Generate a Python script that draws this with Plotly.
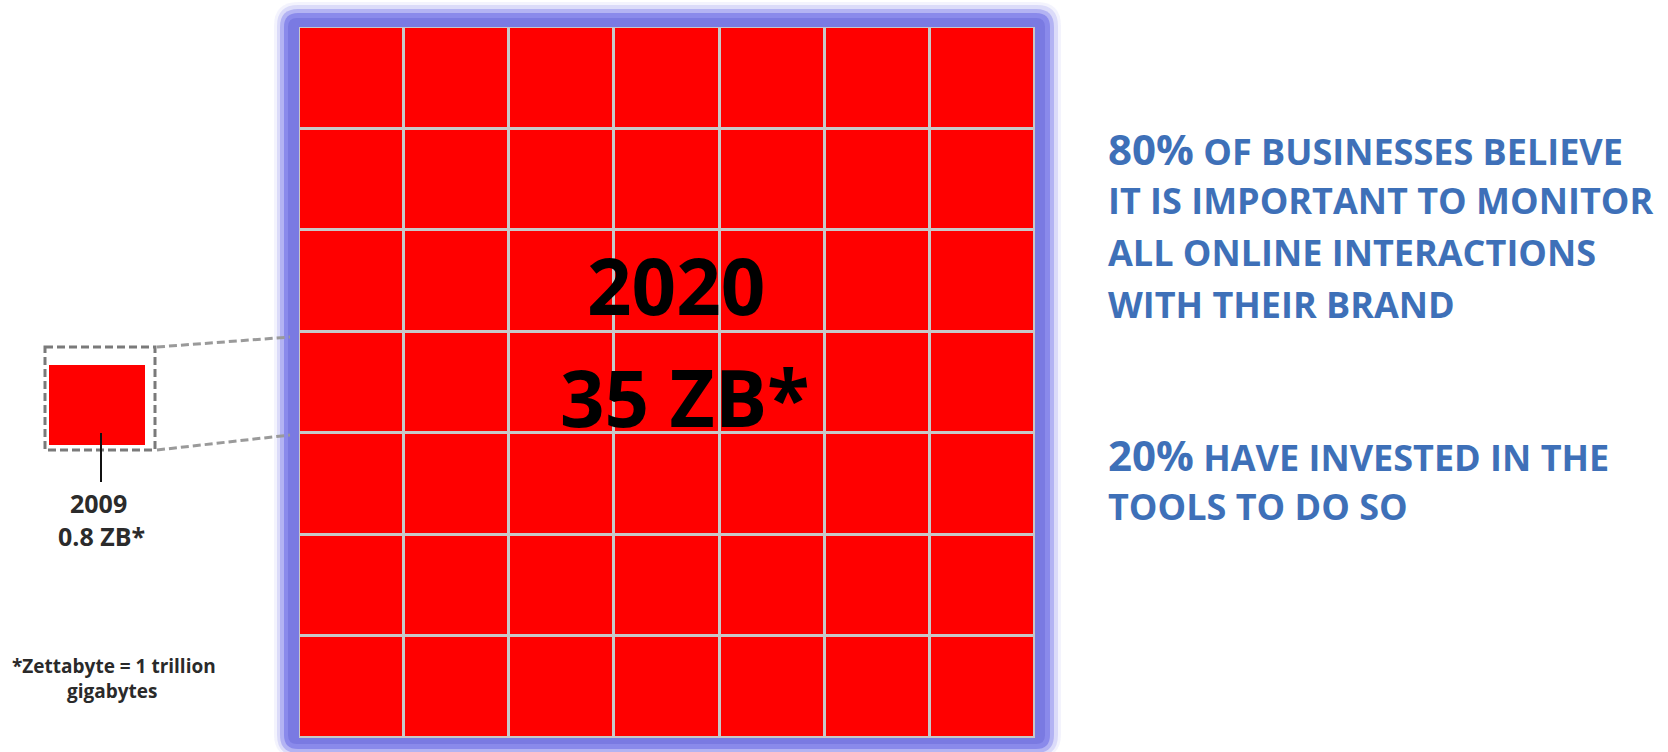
import numpy as np
import plotly.graph_objects as go

# ---------------- data ----------------
years = ["2009", "2020"]
volumes_zb = [0.8, 35]
volume_labels = ["0.8 ZB*", "35 ZB*"]
grid_cols = 7          # 2020 block drawn as 7 x 7 units
grid_rows = 7
stat_pcts = ["80%", "20%"]
stat_lines = [
    ["OF BUSINESSES BELIEVE", "IT IS IMPORTANT TO MONITOR",
     "ALL ONLINE INTERACTIONS", "WITH THEIR BRAND"],
    ["HAVE INVESTED IN THE", "TOOLS TO DO SO"],
]
footnote = ["*Zettabyte = 1 trillion", "gigabytes"]

# ---------------- layout constants ----------------
W, H = 1668, 752
RED = "#FF0000"
BLUE_TXT = "#3E70B8"
FONT = "Open Sans"


def px(x0, x1):
    return [x0 / W, x1 / W]


def py(y0, y1):  # pixel rows (top, bottom) -> paper domain
    return [1 - y1 / H, 1 - y0 / H]


fig = go.Figure()

# invisible trace to anchor the pixel axes
fig.add_trace(go.Scatter(x=[0], y=[0], mode="markers", marker=dict(opacity=0),
                         hoverinfo="skip", showlegend=False, xaxis="x", yaxis="y"))

# 2020 block: grid of units
unit_val = volumes_zb[1] / (grid_cols * grid_rows)
z_big = np.full((grid_rows, grid_cols), unit_val)
fig.add_trace(go.Heatmap(
    z=z_big, x=list(range(grid_cols)), y=list(range(grid_rows)),
    colorscale=[[0, RED], [1, RED]], showscale=False, xgap=3, ygap=3,
    hoverinfo="skip", xaxis="x2", yaxis="y2"))

# 2009 block: single unit
fig.add_trace(go.Heatmap(
    z=[[volumes_zb[0]]], x=[0], y=[0],
    colorscale=[[0, RED], [1, RED]], showscale=False,
    hoverinfo="skip", xaxis="x3", yaxis="y3"))

hidden = dict(visible=False, showgrid=False, zeroline=False, fixedrange=True)

fig.update_layout(
    width=W, height=H,
    margin=dict(l=0, r=0, t=0, b=0),
    paper_bgcolor="white", plot_bgcolor="rgba(0,0,0,0)",
    showlegend=False,
    xaxis=dict(domain=[0, 1], range=[0, W], **hidden),
    yaxis=dict(domain=[0, 1], range=[H, 0], **hidden),
    xaxis2=dict(domain=px(299, 1035), range=[-0.5, grid_cols - 0.5], anchor="y2", **hidden),
    yaxis2=dict(domain=py(27, 738), range=[grid_rows - 0.5, -0.5], anchor="x2", **hidden),
    xaxis3=dict(domain=px(49, 145), range=[-0.5, 0.5], anchor="y3", **hidden),
    yaxis3=dict(domain=py(365, 445), range=[0.5, -0.5], anchor="x3", **hidden),
)


def rrect(x0, y0, x1, y1, r):
    return (f"M {x0+r},{y0} L {x1-r},{y0} Q {x1},{y0} {x1},{y0+r} "
            f"L {x1},{y1-r} Q {x1},{y1} {x1-r},{y1} L {x0+r},{y1} "
            f"Q {x0},{y1} {x0},{y1-r} L {x0},{y0+r} Q {x0},{y0} {x0+r},{y0} Z")


shapes = []
# blue glow frame around the 2020 block
glow = [
    ((274, 2, 1061, 758, 24), "rgba(140,140,240,0.10)"),
    ((277, 5, 1058, 756, 21), "rgba(135,135,238,0.22)"),
    ((280, 9, 1054, 753, 18), "rgba(130,130,235,0.45)"),
    ((284, 13, 1050, 749, 14), "rgba(128,128,232,0.8)"),
    ((288, 18, 1045, 744, 9), "#7A7AE2"),
]
for (x0, y0, x1, y1, r), c in glow:
    shapes.append(dict(type="path", path=rrect(x0, y0, x1, y1, r), xref="x", yref="y",
                       fillcolor=c, line=dict(width=0), layer="below"))

# light grey grout beneath the units
shapes.append(dict(type="rect", xref="x2", yref="y2", x0=-0.5, x1=grid_cols - 0.5,
                   y0=-0.5, y1=grid_rows - 0.5, fillcolor="#C8C8C8",
                   line=dict(width=0), layer="below"))

# zoom box around 2009 block and connectors
dash = "8px,4px"
shapes.append(dict(type="rect", xref="x", yref="y", x0=45, x1=155, y0=347, y1=450,
                   line=dict(color="#7a7a7a", width=3, dash=dash), layer="above"))
shapes.append(dict(type="line", xref="x", yref="y", x0=157, y0=347, x1=290, y1=337,
                   line=dict(color="#9a9a9a", width=3, dash=dash), layer="above"))
shapes.append(dict(type="line", xref="x", yref="y", x0=157, y0=450, x1=290, y1=435,
                   line=dict(color="#9a9a9a", width=3, dash=dash), layer="above"))
# pointer line for 2009 label
shapes.append(dict(type="line", xref="x", yref="y", x0=101, y0=433, x1=101, y1=482,
                   line=dict(color="#111111", width=2), layer="above"))

fig.update_layout(shapes=shapes)


def ann(text, x, baseline, size, color, xanchor="left", weight=700):
    return dict(text=text, x=x, y=baseline - 0.388 * size, xref="x", yref="y",
                xanchor=xanchor, yanchor="middle", showarrow=False,
                font=dict(family=FONT, size=size, color=color, weight=weight))


anns = []
# big block labels
anns.append(ann(years[1], 676, 315, 78, "#000000", "center"))
anns.append(ann(volume_labels[1], 685, 427, 78, "#000000", "center"))
# small block labels
anns.append(ann(years[0], 98, 513, 25, "#2b2b2b", "center"))
anns.append(ann(volume_labels[0], 101, 546, 25, "#2b2b2b", "center"))
# footnote
anns.append(ann(footnote[0], 114, 673, 19, "#2a2a2a", "center", 700))
anns.append(ann(footnote[1], 112, 698, 19, "#2a2a2a", "center", 700))

# right-hand statistics
block_starts = [162, 468]
step = 52.3
for pct, lines, b0 in zip(stat_pcts, stat_lines, block_starts):
    for i, line in enumerate(lines):
        txt = line
        if i == 0:
            txt = f"<span style='font-size:42px'>{pct}</span> {line}"
        anns.append(ann(txt, 1106, b0 + i * step, 36, BLUE_TXT, "left"))

fig.update_layout(annotations=anns)

fig.write_html("out.html",
               config={"displayModeBar": False, "staticPlot": True},
               post_script="document.body.style.margin='0';document.body.style.overflow='hidden';")
